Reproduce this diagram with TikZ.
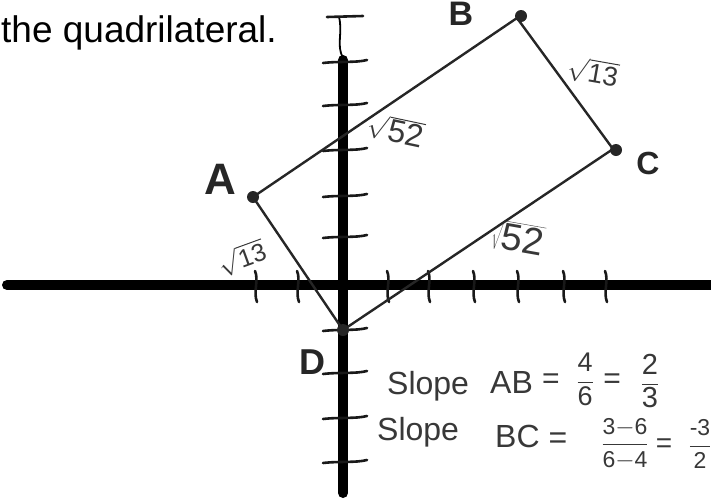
\documentclass[tikz,border=0pt]{standalone}
\usepackage{fontspec}
\setmainfont{Liberation Sans}
\begin{document}
\begin{tikzpicture}[x=1pt,y=-1pt,
  axisline/.style={line width=10pt, line cap=round, draw=black},
  tickline/.style={line width=2.6pt, line cap=round, draw=black!90},
  edge/.style={line width=2.4pt, draw=black!85, line join=round},
  vdot/.style={circle, fill=black!85, inner sep=0pt, minimum size=12pt},
  vlabel/.style={inner sep=0pt, text=black!85, font=\bfseries\fontsize{#1}{#1}\selectfont},
  hand/.style={inner sep=0pt, text=black!78, font=\fontsize{#1}{#1}\selectfont},
  printed/.style={inner sep=0pt, text=black, font=\fontsize{37}{40}\selectfont}
]
\useasboundingbox (0,0) rectangle (711,499);

% printed text
\node[printed, anchor=base west] (prev) at (613,-11) {(-2, 2)};
\node[printed, anchor=base west] (title) at (1,42) {the quadrilateral.};

% axes
\draw[axisline] (7,285) -- (725,285);
\draw[axisline] (343,60) -- (343,493);
\draw[line width=1.8pt, line cap=round] (339,17) .. controls (343,33) and (336,45) .. (343,58);
\draw[tickline] (327,17) -- (363,16);
\foreach \yy in {62,105,150,196,237,330,373,418,462}
  \draw[tickline] (323,\yy+1) .. controls (340,\yy-1) and (355,\yy+1) .. (367,\yy-2);
\foreach \xx in {255,297,387,428,473,517,563,605}
  \draw[tickline] (\xx,271) .. controls (\xx+4,280) and (\xx-2,292) .. (\xx+2,302);

% quadrilateral
\coordinate (pA) at (253,197);
\coordinate (pB) at (517,18);
\coordinate (pC) at (613,149);
\coordinate (pD) at (343,330);
\draw[edge] (pA) -- (pB) -- (pC) -- (pD) -- cycle;
\node[vdot] (dA) at (253,197) {};
\node[vdot] (dB) at (521,16) {};
\node[vdot] (dC) at (616,150) {};
\node[vdot] (dD) at (343,330) {};

% vertex labels
\node[vlabel=44] (lA) at (220,179) {A};
\node[vlabel=34] (lB) at (461,14) {B};
\node[vlabel=32] (lC) at (648,163) {C};
\node[vlabel=36] (lD) at (312,362) {D};

% side lengths
\node[hand=32, rotate=-12] (sAB) at (396,130) {$\sqrt{\mbox{52}}$};
\node[hand=27, rotate=-10] (sBC) at (593,72) {$\sqrt{\mbox{13}}$};
\node[hand=25, rotate=20] (sAD) at (242,258) {$\sqrt{\mbox{13}}$};
\node[hand=38, rotate=-10] (sDC) at (518,238) {$\sqrt{\mbox{52}}$};

% slopes
\node[hand=32, anchor=base west] (s1) at (387,394) {Slope};
\node[hand=32, anchor=base west] (ab) at (490,393) {AB};
\node[hand=30] (eq1) at (551,381) {=};
\node[hand=27] (f1) at (585,379) {$\displaystyle\frac{\mbox{4}}{\mbox{6}}$};
\node[hand=30] (eq2) at (612,381) {=};
\node[hand=29] (f2) at (650,381) {$\displaystyle\frac{\mbox{2}}{\mbox{3}}$};

\node[hand=32, anchor=base west] (s2) at (377,440) {Slope};
\node[hand=32, anchor=base west] (bc) at (495,447) {BC};
\node[hand=32] (eq3) at (558,441) {=};
\node[hand=23] (f3) at (625,444) {$\displaystyle\frac{\mbox{3$-$6}}{\mbox{6$-$4}}$};
\node[hand=28] (eq4) at (664,446) {=};
\node[hand=23] (f4) at (700,444) {$\displaystyle\frac{\mbox{-3}}{\mbox{2}}$};
\end{tikzpicture}
\end{document}
